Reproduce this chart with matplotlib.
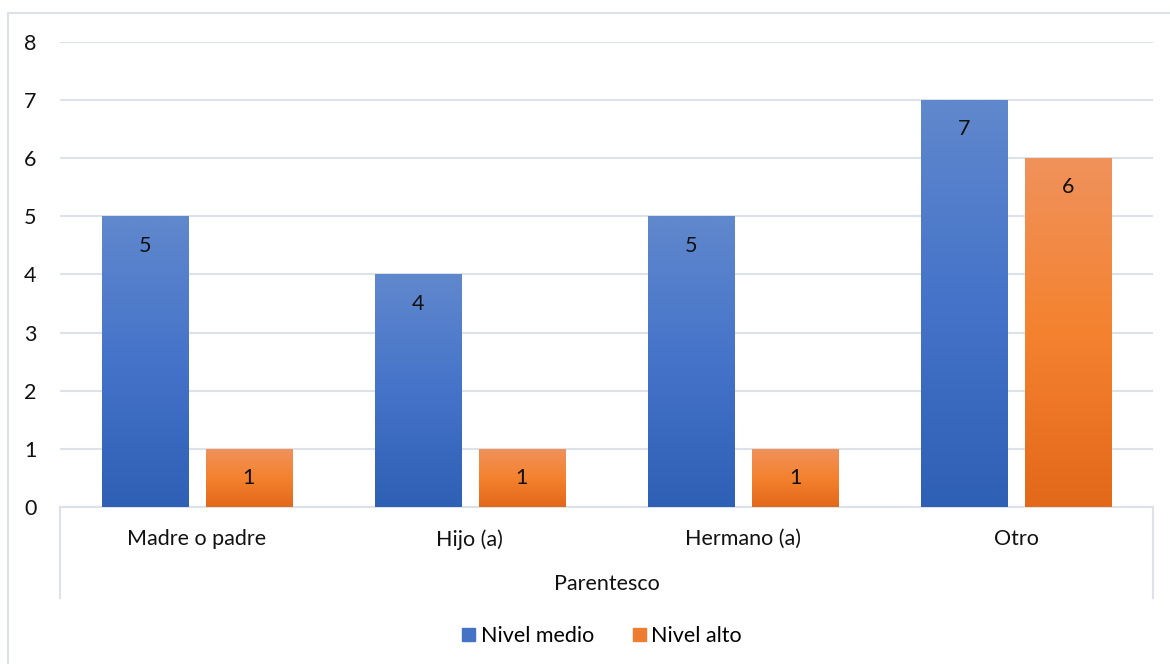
import numpy as np
import matplotlib
matplotlib.use("Agg")
import matplotlib.pyplot as plt
from matplotlib.colors import LinearSegmentedColormap
from matplotlib.patches import Rectangle
from matplotlib.lines import Line2D

plt.rcParams['font.family'] = ['Lato', 'DejaVu Sans']

categories = ["Madre o padre", "Hijo (a)", "Hermano (a)", "Otro"]
nivel_medio = [5, 4, 5, 7]
nivel_alto = [1, 1, 1, 6]
series_names = ["Nivel medio", "Nivel alto"]
axis_title = "Parentesco"

W, H = 1170, 664
FS = 15.5
TXT = "#111111"
fig = plt.figure(figsize=(W / 100, H / 100), dpi=100)

# outer chart border (Excel chart area)
fig.add_artist(Rectangle((8 / W, -0.01), 1.2, (H - 13) / H + 0.01,
                         transform=fig.transFigure, fill=False,
                         edgecolor="#dde2e8", lw=1.5))

left, right, top, bottom = 60, 1153, 42, 507
ax = fig.add_axes([left / W, (H - bottom) / H, (right - left) / W, (bottom - top) / H])

x = np.arange(len(categories))
width = 0.315
offset = 0.19

blue_cmap = LinearSegmentedColormap.from_list("b", ["#2e60b6", "#4573c9", "#6088cd"])
orange_cmap = LinearSegmentedColormap.from_list("o", ["#e3681a", "#f4822f", "#f0925c"])

grad = np.linspace(0, 1, 256).reshape(-1, 1)


def gradient_bars(xs, vals, cmap):
    bars = ax.bar(xs, vals, width, color="none", zorder=3)
    for b in bars:
        x0, y0 = b.get_x(), b.get_y()
        im = ax.imshow(grad, cmap=cmap, origin="lower", aspect="auto",
                       extent=[x0, x0 + b.get_width(), y0, y0 + b.get_height()],
                       zorder=3)
        im.set_clip_path(b)
    for b, v in zip(bars, vals):
        ax.annotate(str(v), (b.get_x() + b.get_width() / 2, v),
                    xytext=(0, -21), textcoords="offset points",
                    ha="center", va="center", fontsize=FS, color=TXT, zorder=4)
    return bars


gradient_bars(x - offset, nivel_medio, blue_cmap)
gradient_bars(x + offset, nivel_alto, orange_cmap)

ax.set_xlim(-0.5, len(categories) - 0.5)
ax.set_ylim(0, 8)
ax.set_yticks(range(0, 9))
ax.yaxis.grid(True, color="#dde2e8", lw=1.5, zorder=0)
ax.set_axisbelow(True)
for s in ["top", "right", "left"]:
    ax.spines[s].set_visible(False)
ax.spines["bottom"].set_color("#dde2e8")
ax.spines["bottom"].set_linewidth(1.5)
ax.tick_params(axis="y", length=0, pad=17, labelsize=FS, labelcolor=TXT)
ax.tick_params(axis="x", length=0, pad=16, labelsize=FS, labelcolor=TXT)
ax.set_xticks(x)
ax.set_xticklabels(categories)

# multi-level axis separators
for px in (left, right):
    fig.add_artist(Line2D([px / W, px / W], [(H - bottom) / H, (H - 598) / H],
                          transform=fig.transFigure, color="#dde2e8", lw=1.5))

fig.text((left + right) / 2 / W, (H - 584) / H, axis_title, ha="center", va="center",
         fontsize=FS, color=TXT)

handles = [Rectangle((0, 0), 1, 1, color="#4472c4"), Rectangle((0, 0), 1, 1, color="#ed7d31")]
fig.legend(handles, series_names, loc="center", bbox_to_anchor=(602 / W, (H - 636) / H),
           ncol=2, frameon=False, fontsize=FS, handlelength=0.6, handleheight=0.6,
           handletextpad=0.25, columnspacing=1.8)

fig.savefig("out.png", dpi=100)
